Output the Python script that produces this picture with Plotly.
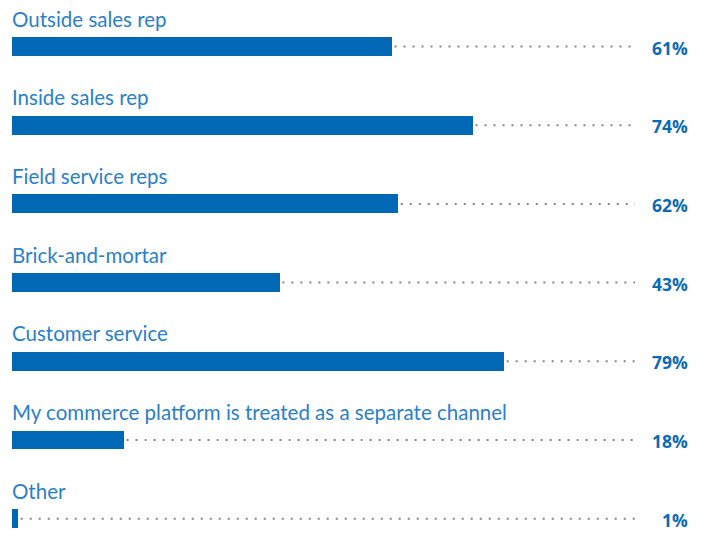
import plotly.graph_objects as go

categories = ["Outside sales rep", "Inside sales rep", "Field service reps", "Brick-and-mortar",
              "Customer service", "My commerce platform is treated as a separate channel", "Other"]
values = [61, 74, 62, 43, 79, 18, 1]
value_labels = [f"{v}%" for v in values]

ypos = list(range(len(categories)))
BAR = "#0068b4"
TXT = "#2a80c8"

fig = go.Figure()
fig.add_trace(go.Bar(x=values, y=ypos, orientation="h", width=0.24,
                     marker=dict(color=BAR, line=dict(width=0)), hoverinfo="skip"))

shapes = []
annotations = []
for i, (c, v, lab) in enumerate(zip(categories, values, value_labels)):
    shapes.append(dict(type="line", xref="x", yref="y", x0=v + 0.4, x1=101.6, y0=i, y1=i,
                       line=dict(color="#7f8790", width=2, dash="2px,7px")))
    annotations.append(dict(x=0, y=i, xref="x", yref="y", text=c, showarrow=False,
                            xanchor="left", yanchor="middle", yshift=28, xshift=-2,
                            font=dict(family="Lato", size=20.5, color=TXT)))
    annotations.append(dict(x=1.089, y=i, xref="paper", yref="y", text=f"<b>{lab}</b>",
                            showarrow=False, xanchor="right", yanchor="middle", yshift=-1,
                            font=dict(family="Open Sans", size=17.5, color="#0a6bb5")))

fig.update_layout(
    width=706, height=536, margin=dict(l=12, r=71, t=0, b=0),
    paper_bgcolor="white", plot_bgcolor="white", showlegend=False,
    xaxis=dict(range=[0, 100], visible=False, fixedrange=True),
    yaxis=dict(range=[6.22, -0.591], visible=False, fixedrange=True),
    shapes=shapes, annotations=annotations, bargap=0,
)
fig.write_html("out.html", config={"displayModeBar": False})
